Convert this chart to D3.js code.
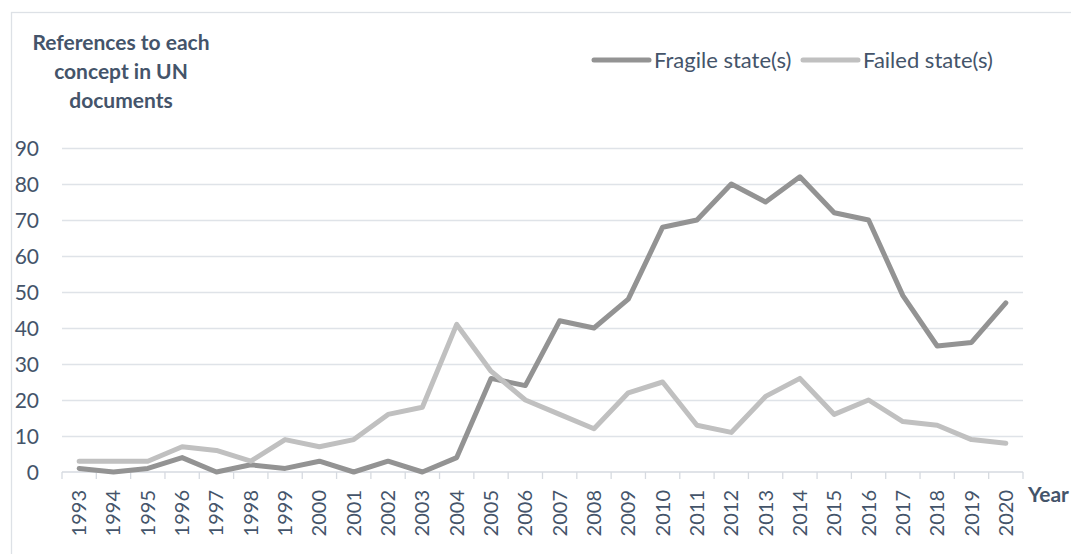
<!DOCTYPE html>
<html>
<head>
<meta charset="utf-8">
<script src="https://cdn.jsdelivr.net/npm/d3@7"></script>
<style>
  body { margin: 0; background: #fff; }
  text { font-family: Lato, "Open Sans", sans-serif; fill: #44546a; }
  .grid line { stroke: #dfe3e8; stroke-width: 1.3; }
  .grid .domain { display: none; }
  .line { fill: none; stroke-width: 5; stroke-linejoin: round; stroke-linecap: round; }
</style>
</head>
<body>
<div id="chart"></div>
<script>
// Datos
const years = [1993, 1994, 1995, 1996, 1997, 1998, 1999, 2000, 2001, 2002, 2003, 2004, 2005, 2006,
  2007, 2008, 2009, 2010, 2011, 2012, 2013, 2014, 2015, 2016, 2017, 2018, 2019, 2020]
const fragile = [1, 0, 1, 4, 0, 2, 1, 3, 0, 3, 0, 4, 26, 24, 42, 40, 48, 68, 70, 80, 75, 82, 72, 70, 49, 35, 36, 47]
const failed = [3, 3, 3, 7, 6, 3, 9, 7, 9, 16, 18, 41, 28, 20, 16, 12, 22, 25, 13, 11, 21, 26, 16, 20, 14, 13, 9, 8]
const yTicks = [0, 10, 20, 30, 40, 50, 60, 70, 80, 90]
const seriesNames = ["Fragile state(s)", "Failed state(s)"]
const colors = ["#939393", "#c0c0c0"]

const width = 1071
const height = 554
const margin = { top: 148, bottom: 82, left: 62, right: 48 }

const svg = d3.select("#chart")
  .append("svg")
  .attr("width", width)
  .attr("height", height)

// Borde exterior
svg.append("rect")
  .attr("x", 11.5).attr("y", 12.5)
  .attr("width", width + 20).attr("height", height + 20)
  .attr("fill", "none")
  .attr("stroke", "#dde1e6")
  .attr("stroke-width", 1.3)

const innerW = width - margin.left - margin.right
const innerH = height - margin.top - margin.bottom

const x = d3.scaleBand().domain(years).range([0, innerW])
const y = d3.scaleLinear().domain([0, 90]).range([innerH, 0])

const g = svg.append("g").attr("transform", `translate(${margin.left}, ${margin.top})`)

// Líneas de cuadrícula
g.append("g")
  .attr("class", "grid")
  .call(d3.axisLeft(y).tickValues(yTicks).tickSize(-innerW).tickFormat(""))
  .selectAll(".tick line").filter(d => d === 0).remove()

// Etiquetas del eje y
yTicks.forEach(v => {
  g.append("text")
    .attr("x", -23)
    .attr("y", y(v))
    .attr("dy", "0.36em")
    .attr("text-anchor", "end")
    .style("font-size", "21px")
    .text(v)
})

// Eje x
const xAxisGroup = g.append("g").attr("transform", `translate(0, ${innerH})`)
xAxisGroup.append("line")
  .attr("x1", 0).attr("x2", innerW)
  .attr("stroke", "#d6dae0").attr("stroke-width", 1.3)
xAxisGroup.selectAll(".xtick")
  .data(years.concat(["end"]))
  .join("line")
  .attr("x1", (d, i) => i < years.length ? x(d) : innerW)
  .attr("x2", (d, i) => i < years.length ? x(d) : innerW)
  .attr("y1", 0).attr("y2", 7)
  .attr("stroke", "#d6dae0").attr("stroke-width", 1.3)
xAxisGroup.selectAll(".xlabel")
  .data(years)
  .join("text")
  .attr("transform", d => `translate(${x(d) + x.bandwidth() / 2 + 7}, 18) rotate(-90)`)
  .attr("text-anchor", "end")
  .style("font-size", "20px")
  .text(d => d)

svg.append("text")
  .attr("x", 1028).attr("y", 502)
  .style("font-size", "21px").style("font-weight", "bold")
  .text("Year")

// Líneas de datos
const line = d3.line()
  .x((d, i) => x(years[i]) + x.bandwidth() / 2)
  .y(d => y(d))

;[fragile, failed].forEach((s, k) => {
  g.append("path")
    .datum(s)
    .attr("class", "line")
    .attr("stroke", colors[k])
    .attr("d", line)
})

// Título del eje y
const titleLines = ["References to each", "concept in UN", "documents"]
titleLines.forEach((t, i) => {
  svg.append("text")
    .attr("x", 121).attr("y", 50 + i * 29)
    .attr("text-anchor", "middle")
    .style("font-size", "21px").style("font-weight", "bold")
    .text(t)
})

// Leyenda
const legendX = [594, 803]
seriesNames.forEach((name, k) => {
  svg.append("line")
    .attr("x1", legendX[k]).attr("x2", legendX[k] + 55)
    .attr("y1", 60).attr("y2", 60)
    .attr("stroke", colors[k]).attr("stroke-width", 5)
    .attr("stroke-linecap", "round")
  svg.append("text")
    .attr("x", legendX[k] + 60).attr("y", 60)
    .attr("dy", "0.36em")
    .style("font-size", "22px")
    .text(name)
})
</script>
</body>
</html>
